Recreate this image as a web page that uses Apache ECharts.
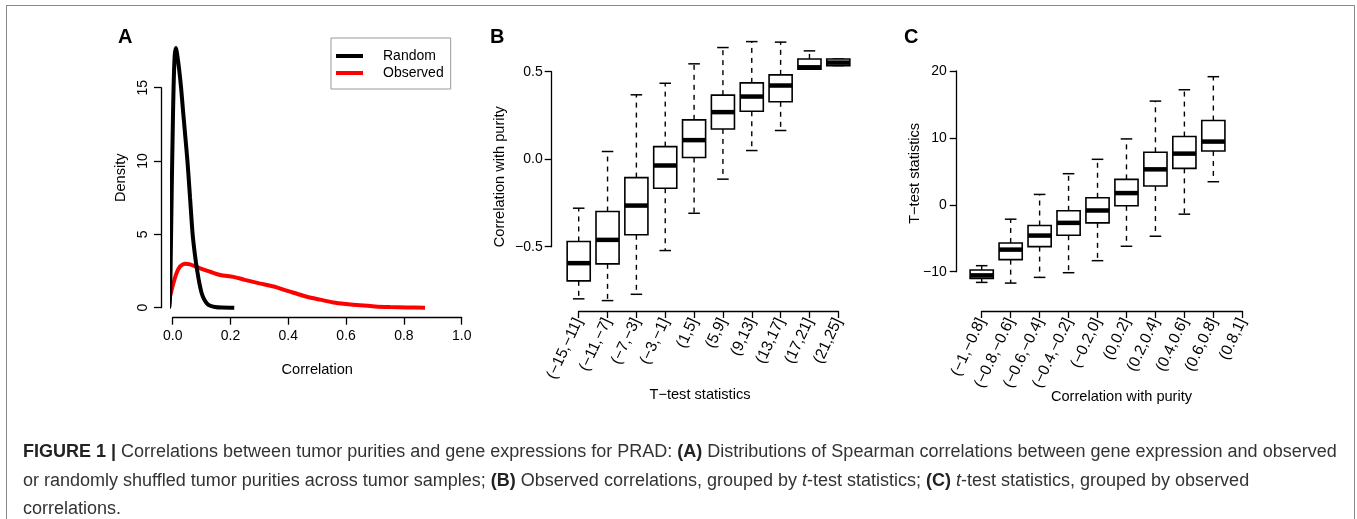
<!DOCTYPE html>
<html><head><meta charset="utf-8">
<script src="https://cdn.jsdelivr.net/npm/echarts@6/dist/echarts.min.js"></script>
<style>
html,body{margin:0;padding:0;width:1357px;height:519px;overflow:hidden;background:#fff;}
#frame{position:absolute;left:6px;top:5px;width:1347px;height:600px;border:1.5px solid #8a8a8a;border-bottom:none;}
#chart{position:absolute;left:0;top:0;width:1357px;height:519px;}
</style></head><body>
<div id="frame"></div>
<div id="chart"></div>
<script>
// ---- Panel A: density curves ----
const randomX = [-0.02,-0.012,-0.009,-0.006,-0.003,0.0,0.003,0.007,0.0115,0.016,0.022,0.029,0.035,0.043,0.051,0.06,0.069,0.077,0.085,0.093,0.1,0.108,0.118,0.13,0.146,0.17,0.213];
const randomY = [0,0.05,0.9,4.5,8.5,12,15,17.2,17.7,17.2,16.3,15,13.6,11.8,10,7.5,5,3.6,2.5,1.6,1.0,0.6,0.3,0.13,0.05,0.01,0];
const observedX = [-0.038,-0.025,-0.01,0.0,0.013,0.025,0.044,0.06,0.095,0.13,0.164,0.21,0.25,0.30,0.36,0.394,0.43,0.464,0.51,0.556,0.60,0.648,0.70,0.752,0.81,0.873];
const observedY = [0,0.15,0.75,1.5,2.34,2.8,3.0,2.95,2.68,2.45,2.23,2.1,1.9,1.66,1.39,1.16,0.95,0.75,0.55,0.36,0.25,0.16,0.09,0.05,0.02,0];

// ---- Panel B: correlation grouped by t-test statistic ----
const bCategories = ['(\u221215,\u221211]','(\u221211,\u22127]','(\u22127,\u22123]','(\u22123,\u22121]','(1,5]','(5,9]','(9,13]','(13,17]','(17,21]','(21,25]'];
const bLow  = [-0.798,-0.808,-0.772,-0.522,-0.309,-0.114,0.0495,0.164,0.514,0.535];
const bQ1   = [-0.695,-0.598,-0.432,-0.166,0.0095,0.173,0.274,0.328,0.514,0.535];
const bMed  = [-0.594,-0.461,-0.265,-0.036,0.109,0.269,0.358,0.421,0.525,0.552];
const bQ3   = [-0.47,-0.299,-0.105,0.072,0.225,0.366,0.436,0.482,0.573,0.573];
const bHigh = [-0.28,0.044,0.368,0.434,0.545,0.638,0.672,0.669,0.619,0.573];

// ---- Panel C: t-test statistic grouped by correlation ----
const cCategories = ['(\u22121,\u22120.8]','(\u22120.8,\u22120.6]','(\u22120.6,\u22120.4]','(\u22120.4,\u22120.2]','(\u22120.2,0]','(0,0.2]','(0.2,0.4]','(0.4,0.6]','(0.6,0.8]','(0.8,1]'];
const cLow  = [-11.6,-11.7,-10.85,-10.15,-8.35,-6.2,-4.7,-1.4,3.45];
const cQ1   = [-11.0,-8.2,-6.25,-4.55,-2.7,-0.15,2.8,5.45,8.05];
const cMed  = [-10.55,-6.7,-4.6,-2.7,-0.85,1.75,5.3,7.65,9.45];
const cQ3   = [-9.75,-5.7,-3.1,-0.9,1.05,3.8,7.85,10.2,12.6];
const cHigh = [-9.1,-2.15,1.55,4.65,6.8,9.85,15.5,17.2,19.15];

const FONT = 'Liberation Sans, Arial, Helvetica, sans-serif';
const minus = s => String(s).replace(/-/g,'\u2212');

function axisBase(extra){
  const base = {
    axisLine:{show:true,onZero:false,lineStyle:{color:'#000',width:1.3}},
    axisTick:{show:true,length:7,lineStyle:{color:'#000',width:1.3}},
    splitLine:{show:false},
    axisLabel:{color:'#000',fontSize:14,fontFamily:FONT},
    nameTextStyle:{color:'#000',fontSize:14.6,fontFamily:FONT},
    nameLocation:'middle',
    nameMoveOverlap:false
  };
  for (const k in extra){
    if (base[k] && typeof base[k]==='object' && typeof extra[k]==='object' && !Array.isArray(extra[k])) base[k]=Object.assign({},base[k],extra[k]);
    else base[k]=extra[k];
  }
  return base;
}

function boxRender(params, api){
  const x = api.value(0);
  const lo = api.coord([x, api.value(1)]);
  const q1 = api.coord([x, api.value(2)]);
  const md = api.coord([x, api.value(3)]);
  const q3 = api.coord([x, api.value(4)]);
  const hi = api.coord([x, api.value(5)]);
  const w = api.size([0.8,0])[0];
  const cx = lo[0];
  const dash = {stroke:'#000',lineWidth:1.4,lineDash:[5,5]};
  const solid = {stroke:'#000',lineWidth:1.5};
  return {type:'group',children:[
    {type:'line',shape:{x1:cx,y1:q3[1],x2:cx,y2:hi[1]},style:dash},
    {type:'line',shape:{x1:cx,y1:q1[1],x2:cx,y2:lo[1]},style:dash},
    {type:'line',shape:{x1:cx-w/4,y1:hi[1],x2:cx+w/4,y2:hi[1]},style:solid},
    {type:'line',shape:{x1:cx-w/4,y1:lo[1],x2:cx+w/4,y2:lo[1]},style:solid},
    {type:'rect',shape:{x:cx-w/2,y:q3[1],width:w,height:q1[1]-q3[1]},style:{fill:'#fff',stroke:'#000',lineWidth:1.6}},
    {type:'line',shape:{x1:cx-w/2,y1:md[1],x2:cx+w/2,y2:md[1]},style:{stroke:'#000',lineWidth:4.5}}
  ]};
}

const randomData = randomX.map((x,i)=>[x,randomY[i]]);
const observedData = observedX.map((x,i)=>[x,observedY[i]]);
const bData = bLow.map((v,i)=>[i+1,bLow[i],bQ1[i],bMed[i],bQ3[i],bHigh[i]]);
const cData = cLow.map((v,i)=>[i+1,cLow[i],cQ1[i],cMed[i],cQ3[i],cHigh[i]]);

const letterStyle = {fontSize:20,fontWeight:'bold',color:'#000',fontFamily:FONT};
const captionLines = [
  '{b|FIGURE 1 |} Correlations between tumor purities and gene expressions for PRAD: {b|(A)} Distributions of Spearman correlations between gene expression and observed',
  'or randomly shuffled tumor purities across tumor samples; {b|(B)} Observed correlations, grouped by {i|t}-test statistics; {b|(C)} {i|t}-test statistics, grouped by observed',
  'correlations.'
];
const CAP = 18;

const option = {
  animation:false,
  backgroundColor:'transparent',
  title:[
    {text:'A',left:118,top:27,padding:0,textStyle:letterStyle},
    {text:'B',left:490,top:27,padding:0,textStyle:letterStyle},
    {text:'C',left:904,top:27,padding:0,textStyle:letterStyle},
    {text:captionLines.join('\n'),left:23,top:438,padding:0,
     textStyle:{fontSize:CAP,fontWeight:'normal',color:'#333',fontFamily:FONT,lineHeight:28.5,
       rich:{b:{fontSize:CAP,fontWeight:'bold',color:'#222',fontFamily:FONT,lineHeight:28.5},
             i:{fontSize:CAP,fontStyle:'italic',color:'#333',fontFamily:FONT,lineHeight:28.5}}}}
  ],
  legend:{
    left:331,top:38,orient:'vertical',padding:[11,7,9,5],itemGap:3,
    icon:'rect',itemWidth:27,itemHeight:4,
    borderColor:'#999',borderWidth:1,
    textStyle:{color:'#000',fontSize:14,fontFamily:FONT,padding:[0,0,0,15]},
    data:['Random','Observed']
  },
  grid:[
    {left:172.7,top:87.7,width:289,height:220,outerBoundsMode:'none'},
    {left:578.7,top:71.7,width:259.6,height:175,outerBoundsMode:'none'},
    {left:981.7,top:71,width:260.6,height:200.7,outerBoundsMode:'none'}
  ],
  xAxis:[
    axisBase({gridIndex:0,type:'value',min:0,max:1,interval:0.2,offset:10,
      axisLabel:{margin:11,formatter:v=>v.toFixed(1)},
      name:'Correlation',nameGap:45}),
    axisBase({gridIndex:1,type:'value',min:1,max:10,interval:1,offset:64.3,
      axisLabel:{margin:8,rotate:65,fontSize:15.5,formatter:v=>bCategories[Math.round(v)-1]||''},
      name:'T\u2212test statistics',nameGap:76,nameTextStyle:{padding:[0,17,0,0]}}),
    axisBase({gridIndex:2,type:'value',min:1,max:10,interval:1,offset:39.3,
      axisLabel:{margin:8,rotate:65,fontSize:15.5,formatter:v=>cCategories[Math.round(v)-1]||''},
      name:'Correlation with purity',nameGap:78,nameTextStyle:{padding:[0,0,0,19]}})
  ],
  yAxis:[
    axisBase({gridIndex:0,type:'value',min:0,max:15,interval:5,offset:11.7,
      axisLabel:{margin:11,rotate:90},
      name:'Density',nameGap:33,nameTextStyle:{padding:[0,0,0,40]}}),
    axisBase({gridIndex:1,type:'value',min:-0.5,max:0.5,interval:0.5,offset:27,
      axisLabel:{margin:9,formatter:v=>minus(v.toFixed(1))},
      name:'Correlation with purity',nameGap:44,nameTextStyle:{padding:[0,35,0,0]}}),
    axisBase({gridIndex:2,type:'value',min:-10,max:20,interval:10,offset:25,
      axisLabel:{margin:10,formatter:v=>minus(v)},
      name:'T\u2212test statistics',nameGap:34,nameTextStyle:{padding:[0,4,0,0]}})
  ],
  series:[
    {name:'Random',type:'line',xAxisIndex:0,yAxisIndex:0,data:randomData,smooth:0.3,symbol:'none',clip:false,
     lineStyle:{color:'#000',width:4},itemStyle:{color:'#000'},z:3},
    {name:'Observed',type:'line',xAxisIndex:0,yAxisIndex:0,data:observedData,smooth:0.3,symbol:'none',clip:false,
     lineStyle:{color:'#ff0000',width:4},itemStyle:{color:'#ff0000'},z:2},
    {name:'B',type:'custom',xAxisIndex:1,yAxisIndex:1,data:bData,encode:{x:0,y:[1,2,3,4,5]},renderItem:boxRender,clip:false},
    {name:'C',type:'custom',xAxisIndex:2,yAxisIndex:2,data:cData,encode:{x:0,y:[1,2,3,4,5]},renderItem:boxRender,clip:false}
  ]
};
const chart = echarts.init(document.getElementById('chart'),null,{renderer:'canvas'});
chart.setOption(option);
</script>
</body></html>
